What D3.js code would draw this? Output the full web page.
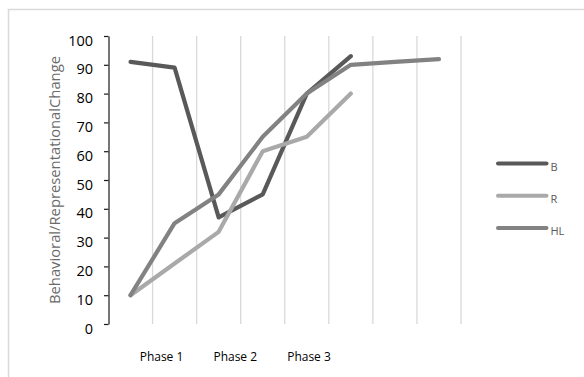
<!DOCTYPE html>
<html>
<head>
<meta charset="utf-8">
<script src="https://cdn.jsdelivr.net/npm/d3@7/dist/d3.min.js"></script>
<style>
  html, body { margin: 0; padding: 0; background: #fff; }
  svg { display: block; }
</style>
</head>
<body>
<div id="chart"></div>
<script>
// Category slots along the x axis (eight, with phase labels set underneath)
const categories = [1, 2, 3, 4, 5, 6, 7, 8];
const phaseLabels = ["Phase 1", "Phase 2", "Phase 3"];

// Series values (null = no reading)
const seriesB  = [91, 89, 37, 45, 80, 93, null, null];
const seriesR  = [10, 21, 32, 60, 65, 80, null, null];
const seriesHL = [10, 35, 45, 65, 80, 90, 91, 92];

const seriesNames = ["B", "R", "HL"];
const yTicks = [0, 10, 20, 30, 40, 50, 60, 70, 80, 90, 100];

const series = [
  { name: seriesNames[0], values: seriesB,  color: "#595959" },
  { name: seriesNames[1], values: seriesR,  color: "#a9a9a9" },
  { name: seriesNames[2], values: seriesHL, color: "#828282" }
];

const W = 584, H = 377;
const plot = { left: 108.5, right: 461, top: 36, bottom: 324 };

const svg = d3.select("#chart").append("svg")
  .attr("width", W).attr("height", H);

// chart frame
svg.append("rect")
  .attr("x", 8.5).attr("y", 9.5)
  .attr("width", 600).attr("height", 400)
  .attr("fill", "none").attr("stroke", "#d9d9d9").attr("stroke-width", 1.5);

const x = d3.scaleBand().domain(categories)
  .range([plot.left, plot.right]).paddingInner(0).paddingOuter(0);
const y = d3.scaleLinear().domain([0, 100]).range([plot.bottom, plot.top]);

// vertical gridlines at category boundaries
svg.append("g")
  .selectAll("line")
  .data(categories)
  .join("line")
  .attr("x1", d => x(d) + x.bandwidth())
  .attr("x2", d => x(d) + x.bandwidth())
  .attr("y1", plot.top).attr("y2", plot.bottom)
  .attr("stroke", "#d9d9d9").attr("stroke-width", 1.3);

// y axis
const yAxis = svg.append("g")
  .attr("transform", `translate(${plot.left},0)`)
  .call(d3.axisLeft(y).tickValues(yTicks).tickSize(4.5).tickSizeOuter(0).tickPadding(11));
yAxis.select(".domain").attr("stroke", "#1a1a1a").attr("stroke-width", 1.2);
yAxis.selectAll(".tick line").attr("stroke", "#1a1a1a").attr("stroke-width", 1.2);
yAxis.selectAll(".tick text")
  .attr("font-family", "'Open Sans', sans-serif")
  .attr("font-size", 14.5)
  .attr("fill", "#000")
  .attr("dy", "0.62em");

// y axis title
svg.append("text")
  .attr("transform", `translate(60,180) rotate(-90)`)
  .attr("text-anchor", "middle")
  .attr("font-family", "'Open Sans', sans-serif")
  .attr("font-size", 14.2)
  .attr("fill", "#6b6b6b")
  .attr("textLength", 248)
  .attr("lengthAdjust", "spacingAndGlyphs")
  .text("Behavioral/RepresentationalChange");

// phase labels under the plot
const px = d3.scalePoint().domain(phaseLabels).range([161.5, 309]);
svg.append("g")
  .selectAll("text")
  .data(phaseLabels)
  .join("text")
  .attr("x", d => px(d))
  .attr("y", 361)
  .attr("text-anchor", "middle")
  .attr("font-family", "'Open Sans', sans-serif")
  .attr("font-size", 12)
  .attr("fill", "#000")
  .text(d => d);

// series lines
const line = d3.line()
  .defined(d => d.v !== null)
  .x(d => x(d.c) + x.bandwidth() / 2)
  .y(d => y(d.v));

svg.append("g")
  .selectAll("path")
  .data(series)
  .join("path")
  .attr("d", s => line(s.values.map((v, i) => ({ c: categories[i], v }))))
  .attr("fill", "none")
  .attr("stroke", s => s.color)
  .attr("stroke-width", 4.2)
  .attr("stroke-linejoin", "round")
  .attr("stroke-linecap", "round");

// legend
const ly = d3.scalePoint().domain(seriesNames).range([163.5, 228]);
const legend = svg.append("g")
  .selectAll("g")
  .data(series)
  .join("g")
  .attr("transform", s => `translate(0,${ly(s.name)})`);
legend.append("line")
  .attr("x1", 498).attr("x2", 546.5)
  .attr("stroke", s => s.color)
  .attr("stroke-width", 4)
  .attr("stroke-linecap", "round");
legend.append("text")
  .attr("x", 550.5).attr("y", 7)
  .attr("font-family", "'Open Sans', sans-serif")
  .attr("font-size", 11)
  .attr("fill", "#595959")
  .text(s => s.name);
</script>
</body>
</html>
